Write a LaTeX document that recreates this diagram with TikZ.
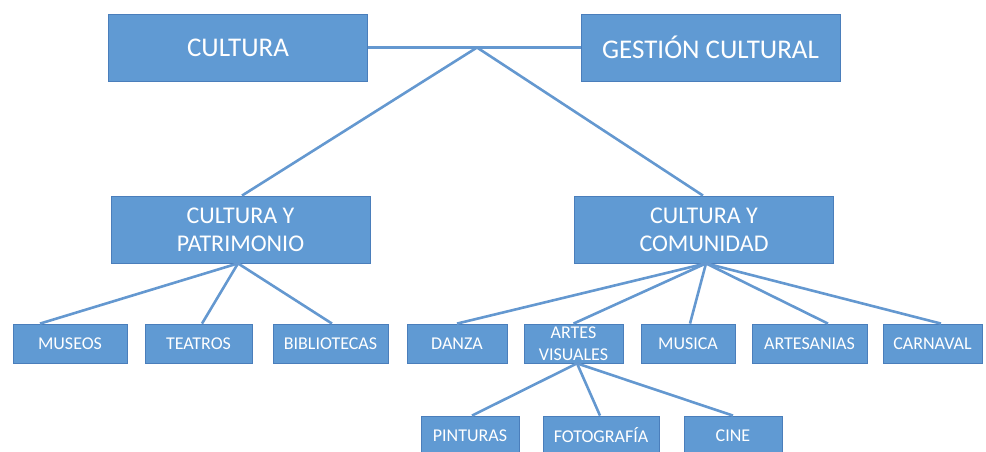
\documentclass[tikz,border=0pt]{standalone}
\usepackage{fontspec}
\setmainfont{Carlito}
\definecolor{boxfill}{RGB}{96,154,211}
\definecolor{boxline}{RGB}{74,126,187}
\definecolor{linkcol}{RGB}{100,152,208}
\begin{document}
\begin{tikzpicture}[x=1pt,y=-1pt,
  box/.style={draw=boxline, line width=0.8pt, fill=boxfill, text=white, inner sep=0pt, align=center},
  bigbox/.style={box, minimum width=259pt, minimum height=67pt, font=\fontsize{27}{30}\selectfont},
  midbox/.style={box, minimum width=259pt, minimum height=67pt, font=\fontsize{24}{28}\selectfont},
  smallbox/.style={box, minimum height=39pt, font=\fontsize{18}{21}\selectfont},
  link/.style={draw=linkcol, line width=2.6pt}]
\useasboundingbox (0,0) rectangle (986,452);
\begin{scope}
\clip (0,0) rectangle (986,452);
% top row
\node[bigbox] (cul) at (238,47.5) {CULTURA};
\node[bigbox] (ges) at (710.5,47.5) {GESTIÓN CULTURAL};
% middle row
\node[midbox] (cyp) at (240.5,229.5) {CULTURA Y\\PATRIMONIO};
\node[midbox] (cyc) at (704,229.5) {CULTURA Y\\COMUNIDAD};
% third row
\node[smallbox, minimum width=114pt] (mus) at (70,343.5) {MUSEOS};
\node[smallbox, minimum width=107pt] (tea) at (198.5,343.5) {TEATROS};
\node[smallbox, minimum width=115pt] (bib) at (330.5,343.5) {BIBLIOTECAS};
\node[smallbox, minimum width=100pt] (dan) at (457,343.5) {DANZA};
\node[smallbox, minimum width=99pt, font=\fontsize{18}{22}\selectfont] (art) at (573.5,343.5) {ARTES\\VISUALES};
\node[smallbox, minimum width=94pt] (musi) at (688,343.5) {MUSICA};
\node[smallbox, minimum width=115pt] (ars) at (809.5,343.5) {ARTESANIAS};
\node[smallbox, minimum width=99pt] (car) at (932.5,343.5) {CARNAVAL};
% fourth row
\node[smallbox, minimum width=98pt] (pin) at (470,435.5) {PINTURAS};
\node[smallbox, minimum width=116pt] (fot) at (601,435.5) {FOTOGRAFÍA};
\node[smallbox, minimum width=98pt] (cin) at (733,435.5) {CINE};
% connectors
\coordinate (j) at (477,47.5);
\path[link] (cul.east) -- (ges.west);
\path[link] (j) -- ([xshift=1.5pt]cyp.north);
\path[link] (j) -- ([xshift=-1pt]cyc.north);
\coordinate (pb) at ([xshift=-2.5pt]cyp.south);
\path[link] (pb) -- ([xshift=-30pt]mus.north);
\path[link] (pb) -- ([xshift=3.5pt]tea.north);
\path[link] (pb) -- ([xshift=1.5pt]bib.north);
\coordinate (cb) at ([xshift=2pt]cyc.south);
\path[link] (cb) -- (dan.north);
\path[link] (cb) -- (art.north);
\path[link] (cb) -- ([xshift=2pt]musi.north);
\path[link] (cb) -- ([xshift=18.5pt]ars.north);
\path[link] (cb) -- ([xshift=8.5pt]car.north);
\coordinate (ab) at ([xshift=3.5pt]art.south);
\path[link] (ab) -- ([xshift=2pt]pin.north);
\path[link] (ab) -- ([xshift=-1pt]fot.north);
\path[link] (ab) -- (cin.north);
\end{scope}
\end{tikzpicture}
\end{document}
